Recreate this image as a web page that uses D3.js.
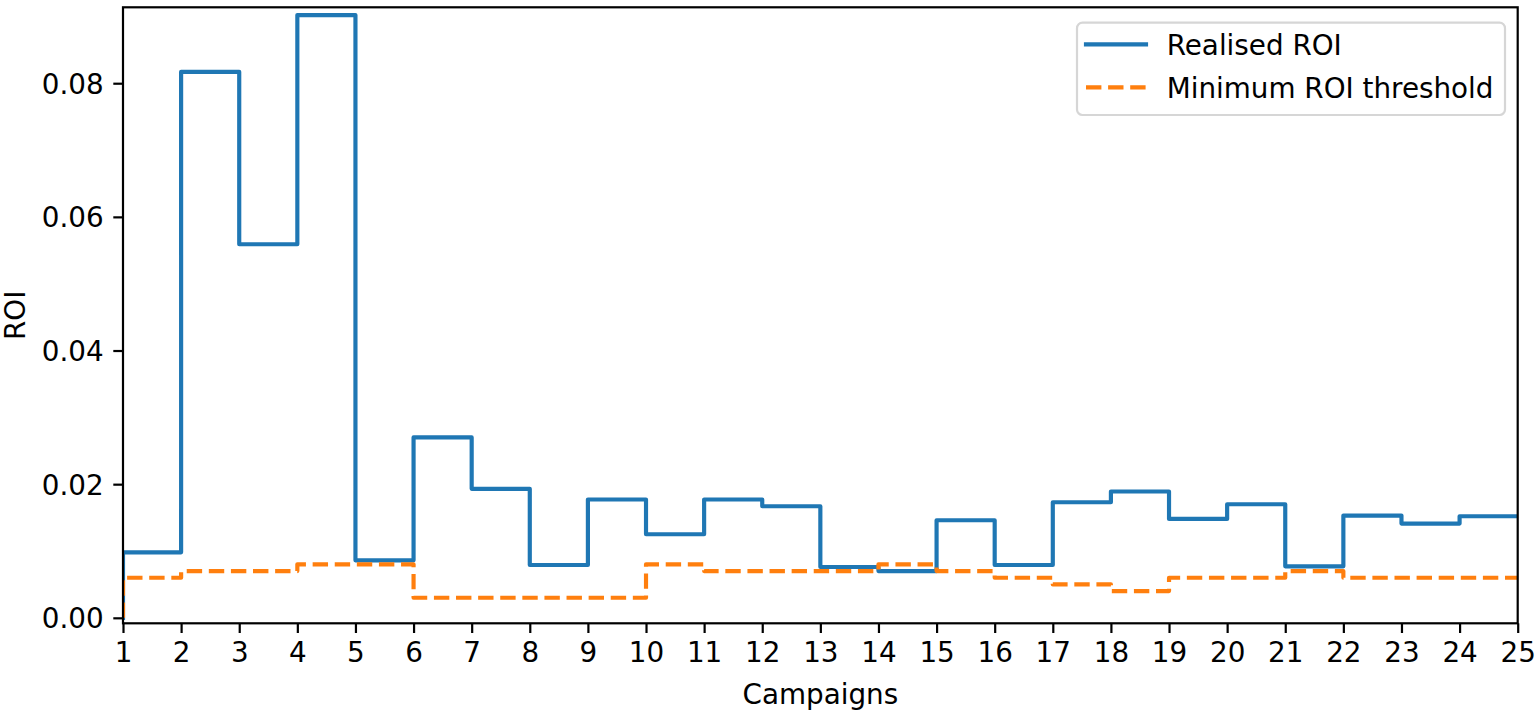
<!DOCTYPE html>
<html>
<head>
<meta charset="utf-8">
<script src="https://cdn.jsdelivr.net/npm/d3@7"></script>
<style>
  html, body { margin: 0; padding: 0; background: #fff; }
  svg { display: block; font-family: "DejaVu Sans", sans-serif; }
</style>
</head>
<body>
<svg id="chart" width="1537" height="712"></svg>
<script>
// ---- data ----
const campaigns = [1,2,3,4,5,6,7,8,9,10,11,12,13,14,15,16,17,18,19,20,21,22,23,24,25];
const realisedROI = [0, 0.0098, 0.0817, 0.0559, 0.0902, 0.0086, 0.0270, 0.0193, 0.0079, 0.0177,
                     0.0125, 0.0177, 0.0167, 0.0076, 0.0070, 0.0146, 0.0079, 0.0173, 0.0189, 0.0148,
                     0.0170, 0.0077, 0.0153, 0.0141, 0.0152];
const minThreshold = [0, 0.006, 0.007, 0.007, 0.008, 0.008, 0.003, 0.003, 0.003, 0.003,
                      0.008, 0.007, 0.007, 0.007, 0.008, 0.007, 0.006, 0.005, 0.004, 0.006,
                      0.006, 0.007, 0.006, 0.006, 0.006];
const yTicks = [0.00, 0.02, 0.04, 0.06, 0.08];
const seriesNames = ["Realised ROI", "Minimum ROI threshold"];
const seriesColors = ["#1f77b4", "#ff7f0e"];

// ---- layout ----
const svg = d3.select("#chart");
const L = 123, R = 1517.7, T = 7.3, B = 623.3;
const FS = 27.8;

const x = d3.scaleLinear().domain([1, 25]).range([L, R]);
const y = d3.scaleLinear().domain([-0.00082, 0.09136]).range([B, T]);

const line = d3.line()
  .x((d, i) => x(campaigns[i]))
  .y(d => y(d))
  .curve(d3.curveStepBefore);

const clip = svg.append("clipPath").attr("id", "clip")
  .append("rect").attr("x", L).attr("y", T).attr("width", R - L).attr("height", B - T);

const plot = svg.append("g").attr("clip-path", "url(#clip)");
plot.append("path").datum(realisedROI)
  .attr("d", line).attr("fill", "none")
  .attr("stroke", seriesColors[0]).attr("stroke-width", 4.17)
  .attr("stroke-linejoin", "round").attr("stroke-linecap", "square");
plot.append("path").datum(minThreshold)
  .attr("d", line).attr("fill", "none")
  .attr("stroke", seriesColors[1]).attr("stroke-width", 4.17)
  .attr("stroke-dasharray", "15.4,6.7")
  .attr("stroke-linejoin", "round").attr("stroke-linecap", "butt");

// ---- axes ----
const xAxis = d3.axisBottom(x).tickValues(campaigns).tickFormat(d3.format("d"))
  .tickSize(9.7).tickPadding(9.2);
const gx = svg.append("g").attr("transform", `translate(0,${B})`).call(xAxis);
gx.select(".domain").remove();
gx.selectAll(".tick line").attr("stroke", "#000").attr("stroke-width", 2.2);
gx.selectAll(".tick text").attr("font-size", FS).attr("fill", "#000")
  .attr("font-family", "DejaVu Sans").attr("dy", "0.71em");

const yAxis = d3.axisLeft(y).tickValues(yTicks).tickFormat(d3.format(".2f"))
  .tickSize(9.7).tickPadding(9.7);
const gy = svg.append("g").attr("transform", `translate(${L},0)`).call(yAxis);
gy.select(".domain").remove();
gy.selectAll(".tick line").attr("stroke", "#000").attr("stroke-width", 2.2);
gy.selectAll(".tick text").attr("font-size", FS).attr("fill", "#000")
  .attr("font-family", "DejaVu Sans").attr("dy", "0.36em");

// spines
svg.append("rect").attr("x", L).attr("y", T).attr("width", R - L).attr("height", B - T)
  .attr("fill", "none").attr("stroke", "#000").attr("stroke-width", 2.2);

// axis labels
svg.append("text").attr("x", (L + R) / 2).attr("y", 704)
  .attr("text-anchor", "middle").attr("font-size", FS).attr("fill", "#000")
  .text("Campaigns");
svg.append("text")
  .attr("transform", `translate(25,${(T + B) / 2}) rotate(-90)`)
  .attr("text-anchor", "middle").attr("font-size", FS).attr("fill", "#000")
  .text("ROI");

// ---- legend ----
const lg = svg.append("g");
lg.append("rect").attr("x", 1077).attr("y", 22.7).attr("width", 428).attr("height", 92.3)
  .attr("rx", 5.5).attr("ry", 5.5)
  .attr("fill", "#fff").attr("fill-opacity", 0.8)
  .attr("stroke", "#d6d6d6").attr("stroke-width", 2.2);
const rowsY = [44.3, 87.3];
seriesNames.forEach((name, i) => {
  lg.append("line").attr("x1", 1086).attr("x2", 1146).attr("y1", rowsY[i]).attr("y2", rowsY[i])
    .attr("stroke", seriesColors[i]).attr("stroke-width", 4.17)
    .attr("stroke-dasharray", i === 1 ? "15.4,6.7" : null)
    .attr("stroke-linecap", i === 1 ? "butt" : "square");
  lg.append("text").attr("x", 1166.7).attr("y", rowsY[i] + 10.3)
    .attr("font-size", FS).attr("fill", "#000").text(name);
});
</script>
</body>
</html>
